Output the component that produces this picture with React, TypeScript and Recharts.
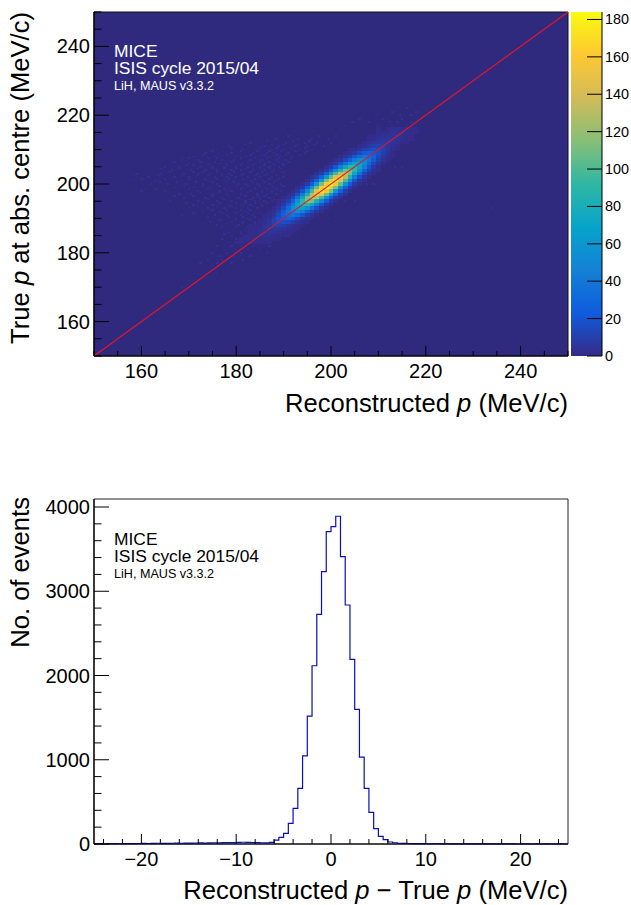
import {
  Bar,
  BarChart,
  CartesianGrid,
  ComposedChart,
  Line,
  ReferenceArea,
  ReferenceLine,
  Scatter,
  ScatterChart,
  XAxis,
  YAxis,
} from "recharts";

const FONT = "'Liberation Sans', Arial, sans-serif";

// ROOT "bird" palette
const birdColors = [
  [53, 42, 135],
  [15, 92, 221],
  [20, 129, 214],
  [6, 164, 202],
  [46, 183, 164],
  [135, 191, 119],
  [209, 187, 89],
  [254, 200, 50],
  [249, 251, 14],
];
const COLOR_MAX = 184;

const xTicksTop = [150, 155, 160, 165, 170, 175, 180, 185, 190, 195, 200, 205, 210, 215, 220, 225, 230, 235, 240, 245, 250];
const yTicksTop = [150, 155, 160, 165, 170, 175, 180, 185, 190, 195, 200, 205, 210, 215, 220, 225, 230, 235, 240, 245, 250];
const majorsTop = [160, 180, 200, 220, 240];
const colorTicks = [0, 20, 40, 60, 80, 100, 120, 140, 160, 180];

const xTicksBottom = [-24, -22, -20, -18, -16, -14, -12, -10, -8, -6, -4, -2, 0, 2, 4, 6, 8, 10, 12, 14, 16, 18, 20, 22, 24];
const yTicksBottom = [0, 200, 400, 600, 800, 1000, 1200, 1400, 1600, 1800, 2000, 2200, 2400, 2600, 2800, 3000, 3200, 3400, 3600, 3800, 4000];
const xMajorsBottom = [-20, -10, 0, 10, 20];
const yMajorsBottom = [0, 1000, 2000, 3000, 4000];

// central ridge, counts per cell: row y, column x = y + offset
const ridgeOffsets = [-6, -5, -4, -3, -2, -1, 0, 1, 2, 3, 4, 5, 6];
const ridgeRowYs = [216, 215, 214, 213, 212, 211, 210, 209, 208, 207, 206, 205, 204, 203, 202, 201, 200, 199, 198, 197, 196, 195, 194, 193, 192, 191, 190, 189, 188, 187, 186, 185, 184, 183];
const ridgeCounts = [
  [1, 0, 1, 2, 2, 2, 2, 1, 1, 0, 0, 0, 0],
  [0, 1, 2, 2, 3, 3, 3, 2, 1, 1, 0, 0, 0],
  [1, 1, 2, 3, 4, 4, 4, 3, 2, 1, 0, 0, 0],
  [0, 1, 2, 4, 5, 6, 5, 4, 2, 1, 1, 0, 0],
  [0, 1, 3, 5, 7, 8, 7, 5, 3, 1, 1, 0, 0],
  [0, 1, 3, 6, 9, 11, 9, 6, 3, 1, 0, 0, 0],
  [1, 2, 5, 10, 14, 17, 15, 11, 6, 2, 1, 0, 0],
  [1, 3, 7, 14, 22, 26, 23, 17, 9, 4, 1, 0, 0],
  [1, 4, 10, 20, 31, 37, 35, 26, 14, 6, 2, 1, 0],
  [2, 5, 14, 27, 43, 53, 50, 37, 22, 10, 3, 1, 0],
  [2, 6, 17, 35, 56, 70, 70, 53, 31, 14, 5, 1, 0],
  [2, 7, 20, 43, 71, 91, 91, 70, 43, 20, 7, 2, 0],
  [2, 8, 23, 50, 84, 111, 114, 91, 56, 27, 10, 3, 1],
  [3, 9, 25, 56, 97, 131, 136, 111, 71, 35, 14, 4, 1],
  [3, 9, 27, 60, 106, 146, 156, 131, 84, 43, 17, 5, 1],
  [2, 9, 27, 61, 111, 157, 171, 146, 97, 50, 20, 6, 2],
  [2, 8, 25, 60, 111, 160, 179, 157, 106, 56, 23, 7, 2],
  [2, 7, 23, 56, 106, 157, 180, 160, 111, 60, 25, 8, 2],
  [2, 6, 20, 50, 97, 146, 171, 157, 111, 61, 27, 9, 2],
  [1, 5, 17, 43, 84, 131, 156, 146, 106, 60, 27, 9, 3],
  [1, 4, 14, 35, 71, 111, 136, 131, 97, 56, 25, 9, 3],
  [1, 3, 10, 27, 56, 91, 114, 111, 84, 50, 23, 8, 2],
  [0, 2, 7, 20, 43, 70, 91, 91, 71, 43, 20, 7, 2],
  [0, 1, 5, 14, 31, 53, 70, 70, 56, 35, 17, 6, 2],
  [0, 1, 3, 10, 22, 37, 50, 53, 43, 27, 14, 5, 2],
  [0, 1, 2, 6, 14, 26, 35, 37, 31, 20, 10, 4, 1],
  [0, 0, 1, 4, 9, 17, 23, 26, 22, 14, 7, 3, 1],
  [0, 0, 1, 2, 6, 11, 15, 17, 14, 10, 5, 2, 1],
  [0, 0, 1, 1, 3, 6, 9, 11, 9, 6, 3, 1, 1],
  [0, 0, 1, 1, 2, 4, 6, 7, 6, 5, 3, 2, 1],
  [0, 0, 0, 1, 1, 3, 4, 5, 4, 3, 2, 1, 1],
  [0, 0, 0, 1, 1, 2, 3, 3, 3, 2, 1, 1, 1],
  [0, 0, 0, 1, 1, 2, 2, 2, 2, 2, 1, 1, 0],
  [0, 0, 0, 1, 1, 1, 1, 1, 2, 1, 1, 0, 0],
];

// faint single cells around the ridge: [y, x, x, ...]
const haloRows = [
  [222, 216], [221, 213, 218], [220, 209.5, 214.5, 217], [219, 206, 211, 215],
  [218, 204.5, 208, 212.5, 214, 217], [217, 203, 206.5, 210, 213, 216],
  [214, 191, 197.5, 201], [213, 188.5, 193, 196, 199.5], [212, 183, 190.5, 194.5, 197, 200],
  [211, 178.5, 186, 189, 192.5, 195, 198.5], [210, 176, 181.5, 184, 187.5, 190, 193.5, 196],
  [209, 173.5, 179, 183.5, 186.5, 188, 191, 194.5], [208, 171, 175.5, 180, 182, 185, 187, 189.5, 192],
  [207, 168.5, 172, 177, 179.5, 183, 185.5, 188.5, 190.5], [206, 170, 174.5, 176.5, 178, 181.5, 184, 186, 187.5, 190],
  [205, 165, 168, 172.5, 175, 177.5, 180, 182.5, 185, 187, 189, 213.5, 215],
  [204, 166.5, 170.5, 173.5, 176, 179, 181, 183.5, 186, 188],
  [203, 159, 164, 169, 172, 174.5, 177, 178.5, 181.5, 184.5, 186.5],
  [202, 161.5, 167, 170, 175.5, 178, 180, 182.5, 185, 187.5, 190],
  [201, 158, 163, 168.5, 171.5, 174, 177.5, 179.5, 183, 185.5, 188.5],
  [200, 162, 165.5, 169.5, 173, 176, 180.5, 182, 184.5, 187, 189.5, 207.5, 209],
  [199, 167, 171, 174.5, 178.5, 181.5, 184, 186, 188],
  [198, 160, 165, 172, 176.5, 179, 183, 185.5, 187.5, 189.5],
  [197, 168, 170.5, 175, 178, 181, 184.5, 186.5, 188.5],
  [196, 169, 173.5, 177, 180.5, 183.5, 185, 187],
  [195, 166, 172, 176, 179, 182, 184, 186, 187.5, 203, 205],
  [194, 171, 175, 178.5, 181, 183, 185.5], [193, 170, 174, 177.5, 180, 182.5, 184.5, 234],
  [192, 173, 176.5, 179.5, 182, 184], [191, 168.5, 175.5, 178, 181, 183.5],
  [190, 172, 177, 180, 182.5, 197.5, 199.5], [189, 174.5, 179, 181.5, 184], [188, 176, 180.5, 183],
  [186, 178.5, 181, 183.5], [185, 179, 182, 183, 191, 193], [184, 177, 180, 181.5, 184.5],
  [183, 178.5, 180.5, 182, 186], [182, 176, 179, 181, 183.5, 187], [181, 177.5, 180, 182.5, 185],
  [180, 175, 178, 181, 186.5], [179, 176.5, 179.5, 183], [178, 174, 177, 181.5],
  [177, 172.5, 176, 179], [176, 175, 178], [174, 172, 176], [172, 170], [170, 168.5],
  [212.5, 186.5, 192, 195.5], [211.5, 182, 187.5, 190, 193, 196.5], [210.5, 179, 185, 188.5, 191.5, 194.5],
  [209.5, 175, 181, 184.5, 187, 189.5, 192.5, 195], [208.5, 173, 178, 183, 186, 188.5, 190.5, 193.5],
  [207.5, 170, 174, 176, 181, 184, 186.5, 189, 191.5], [206.5, 167, 172.5, 175.5, 179, 182.5, 185, 187, 189, 191],
  [205.5, 169.5, 171, 174, 178, 181, 183.5, 186, 188, 190], [204.5, 164, 168, 172, 175, 177.5, 180, 182, 185, 187, 189.5],
  [203.5, 166, 171, 173, 176, 179.5, 183, 185.5, 187.5, 190], [202.5, 163.5, 168.5, 172, 174, 177, 179, 181, 184, 186, 188.5],
  [201.5, 160, 165, 170, 173.5, 176, 178.5, 181.5, 184, 187, 189],
  [200.5, 164, 167.5, 171.5, 175, 178, 179.5, 183.5, 186, 188],
  [199.5, 169, 173, 176.5, 180, 182.5, 185, 187.5, 190], [198.5, 163, 170, 174, 177.5, 181, 184, 186.5, 188.5],
  [197.5, 172.5, 176.5, 179.5, 182.5, 185.5, 187.5], [196.5, 167, 171, 175, 178.5, 182, 184.5, 186],
  [195.5, 174, 177.5, 181, 183, 185, 188], [194.5, 169.5, 173, 176.5, 180, 182, 184, 186.5],
  [193.5, 172, 176, 179, 181.5, 183.5, 185.5], [192.5, 175, 178, 181, 183], [191.5, 171, 177, 180, 182.5, 185],
  [190.5, 174, 178.5, 181.5, 184], [189.5, 176.5, 180, 183, 185], [188.5, 178, 181.5, 184],
  [187.5, 177, 180, 182.5, 184.5], [186.5, 179.5, 182, 184.5], [185.5, 177.5, 181, 184],
];
const HALO_COUNT = 3;

// histogram counts per 0.5 MeV/c bin, from -25 to +25
const tailLeftCounts = [3, 4, 3, 5, 4, 3, 4, 5, 5, 6, 7, 6, 8, 9, 7, 8, 9, 10, 9, 11, 10, 12, 13, 11, 14, 15, 13, 16, 17, 16, 20, 21, 19, 18, 16, 15];
const peakCounts = [14, 20, 47, 79, 127, 245, 423, 661, 1045, 1519, 2116, 2726, 3232, 3708, 3767, 3890, 3410, 2837, 2192, 1598, 1032, 661, 376, 182, 91, 51, 24, 15, 9, 7];
const tailRightCounts = [6, 5, 4, 4, 3, 3, 3, 2, 3, 2, 2, 2, 1, 2, 1, 1, 1, 2, 1, 1, 1, 1, 1, 0, 1, 1, 0, 1, 0, 1, 0, 0, 1, 0];

const histCounts = [...tailLeftCounts, ...peakCounts, ...tailRightCounts];
const histData = [...histCounts, histCounts[histCounts.length - 1]].map((n, i) => ({ x: -25 + i * 0.5, n }));

const ridgeCells = ridgeRowYs.flatMap((y, r) =>
  ridgeOffsets.map((v, c) => ({ x: y + v, y, n: ridgeCounts[r][c] })).filter((d) => d.n > 0)
);
const haloCells = haloRows.flatMap(([y, ...xs]) => xs.map((x) => ({ x, y, n: HALO_COUNT })));

function colorFor(n: number) {
  const t = Math.min(n / COLOR_MAX, 1) * (birdColors.length - 1);
  const i = Math.min(Math.floor(t), birdColors.length - 2);
  const f = t - i;
  const c = birdColors[i].map((v, k) => Math.round(v + (birdColors[i + 1][k] - v) * f));
  return `rgb(${c[0]},${c[1]},${c[2]})`;
}

// pixels per MeV/c in the upper panel
const PX_X = 4.74;
const PX_Y = 3.44;

const cellShape = (size: number) => (props: any) => {
  const w = size * PX_X;
  const h = size * PX_Y;
  return (
    <rect
      x={props.cx - w / 2}
      y={props.cy - h / 2}
      width={w}
      height={h}
      fill={colorFor(props.payload.n)}
      shapeRendering="crispEdges"
    />
  );
};

const xTick = (majors: number[]) => (props: any) => {
  const { x, y, payload } = props;
  const major = majors.includes(payload.value);
  return (
    <g>
      <line x1={x} x2={x} y1={y} y2={y - (major ? 10 : 5)} stroke="#000" strokeWidth={1} />
      {major && (
        <text x={x} y={y + 22} textAnchor="middle" fontSize={20} fontFamily={FONT} fill="#000">
          {String(payload.value).replace("-", "\u2212")}
        </text>
      )}
    </g>
  );
};

const yTick = (majors: number[]) => (props: any) => {
  const { x, y, payload } = props;
  const major = majors.includes(payload.value);
  return (
    <g>
      <line x1={x} x2={x + (major ? 15 : 7.5)} y1={y} y2={y} stroke="#000" strokeWidth={1} />
      {major && (
        <text x={x - 4} y={y + 7} textAnchor="end" fontSize={20} fontFamily={FONT} fill="#000">
          {payload.value}
        </text>
      )}
    </g>
  );
};

const colorTick = (props: any) => {
  const { x, y, payload } = props;
  return (
    <g>
      <line x1={x} x2={x - 15} y1={y} y2={y} stroke="#000" strokeWidth={1} />
      <text x={x + 3} y={y + 5} fontSize={14.4} fontFamily={FONT} fill="#000">
        {payload.value}
      </text>
    </g>
  );
};

function Notes({ top, color }: { top: number; color: string }) {
  return (
    <g fontFamily={FONT} fill={color}>
      <text x={114} y={top} fontSize={17.4}>MICE</text>
      <text x={114} y={top + 16.5} fontSize={17.4}>ISIS cycle 2015/04</text>
      <text x={114} y={top + 32.5} fontSize={12.6}>LiH, MAUS v3.3.2</text>
    </g>
  );
}

export default function App() {
  return (
    <div style={{ position: "absolute", left: 0, top: 0, width: 631, height: 905, background: "#fff" }}>
      <div style={{ position: "absolute", left: 0, top: 0 }}>
        <ScatterChart width={571} height={450} margin={{ top: 12, right: 3, bottom: 0, left: 0 }}>
          <CartesianGrid horizontal={false} vertical={false} fill="#302a7f" fillOpacity={1} />
          <XAxis
            type="number"
            dataKey="x"
            domain={[150, 250]}
            ticks={xTicksTop}
            interval={0}
            height={94}
            tickSize={0}
            tickMargin={0}
            tickLine={false}
            tick={xTick(majorsTop)}
            axisLine={{ stroke: "#000", strokeWidth: 1.2 }}
          />
          <YAxis
            type="number"
            dataKey="y"
            domain={[150, 250]}
            ticks={yTicksTop}
            interval={0}
            width={94}
            tickSize={0}
            tickMargin={0}
            tickLine={false}
            tick={yTick(majorsTop)}
            axisLine={{ stroke: "#000", strokeWidth: 1.2 }}
          />
          <Scatter data={haloCells} shape={cellShape(0.5)} isAnimationActive={false} />
          <Scatter data={ridgeCells} shape={cellShape(1)} isAnimationActive={false} />
          <ReferenceLine
            segment={[{ x: 150, y: 150 }, { x: 250, y: 250 }]}
            stroke="#e0162b"
            strokeWidth={1.2}
            zIndex={700}
          />
          <ReferenceArea x1={150} x2={250} y1={150} y2={250} fill="none" stroke="#111" strokeWidth={1} />
          <Notes top={57} color="#fff" />
          <text x={568} y={412} textAnchor="end" fontSize={25.6} fontFamily={FONT} fill="#000">
            Reconstructed <tspan fontStyle="italic">p</tspan> (MeV/c)
          </text>
          <text
            transform="translate(29 12) rotate(-90)"
            textAnchor="end"
            fontSize={25.6}
            fontFamily={FONT}
            fill="#000"
          >
            True <tspan fontStyle="italic">p</tspan> at abs. centre (MeV/c)
          </text>
        </ScatterChart>
      </div>

      <div style={{ position: "absolute", left: 571, top: 0 }}>
        <BarChart
          width={60}
          height={450}
          data={[{ name: "scale", top: COLOR_MAX }]}
          margin={{ top: 12, right: 0, bottom: 94, left: 0 }}
          barCategoryGap={0}
        >
          <defs>
            <linearGradient id="bird" x1="0" y1="1" x2="0" y2="0">
              {birdColors.map((c, i) => (
                <stop key={i} offset={i / (birdColors.length - 1)} stopColor={`rgb(${c[0]},${c[1]},${c[2]})`} />
              ))}
            </linearGradient>
          </defs>
          <XAxis dataKey="name" hide />
          <YAxis
            orientation="right"
            type="number"
            domain={[0, COLOR_MAX]}
            ticks={colorTicks}
            interval={0}
            width={29}
            tickSize={0}
            tickMargin={0}
            tickLine={false}
            tick={colorTick}
            axisLine={{ stroke: "#000", strokeWidth: 1 }}
          />
          <Bar dataKey="top" fill="url(#bird)" isAnimationActive={false} />
        </BarChart>
      </div>

      <div style={{ position: "absolute", left: 0, top: 450 }}>
        <ComposedChart width={631} height={455} data={histData} margin={{ top: 49, right: 63, bottom: 0, left: 0 }}>
          <XAxis
            type="number"
            dataKey="x"
            domain={[-25, 25]}
            ticks={xTicksBottom}
            interval={0}
            height={61}
            tickSize={0}
            tickMargin={0}
            tickLine={false}
            tick={xTick(xMajorsBottom)}
            axisLine={{ stroke: "#000", strokeWidth: 1.2 }}
          />
          <YAxis
            type="number"
            domain={[0, 4095]}
            ticks={yTicksBottom}
            interval={0}
            width={94}
            tickSize={0}
            tickMargin={0}
            tickLine={false}
            tick={yTick(yMajorsBottom)}
            axisLine={{ stroke: "#000", strokeWidth: 1.2 }}
          />
          <Line
            type="stepAfter"
            dataKey="n"
            stroke="#0c0cb8"
            strokeWidth={1.2}
            dot={false}
            isAnimationActive={false}
          />
          <ReferenceArea x1={-25} x2={25} y1={0} y2={4095} fill="none" stroke="#222" strokeWidth={1} />
          <Notes top={95} color="#000" />
          <text x={568} y={449} textAnchor="end" fontSize={25.6} fontFamily={FONT} fill="#000">
            Reconstructed <tspan fontStyle="italic">p</tspan> {"\u2212"} True <tspan fontStyle="italic">p</tspan> (MeV/c)
          </text>
          <text
            transform="translate(29 47) rotate(-90)"
            textAnchor="end"
            fontSize={25.6}
            fontFamily={FONT}
            fill="#000"
          >
            No. of events
          </text>
        </ComposedChart>
      </div>
    </div>
  );
}
